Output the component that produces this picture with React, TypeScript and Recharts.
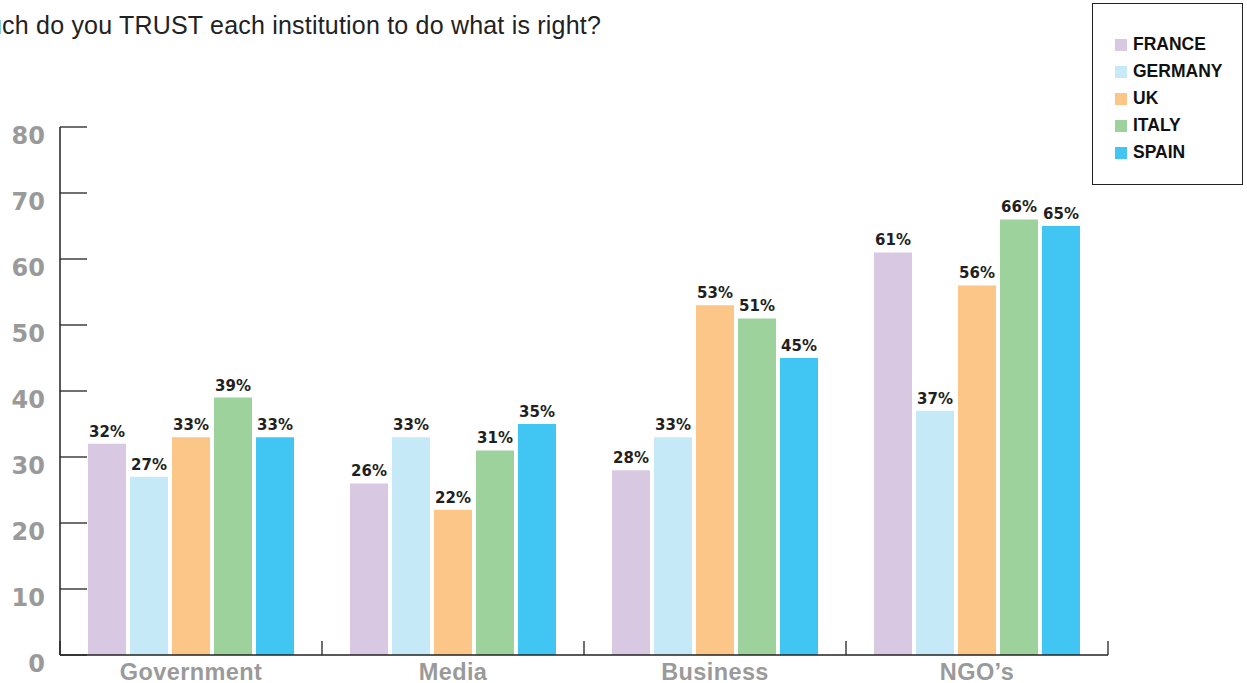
import React from 'react';
import { BarChart, Bar, XAxis, YAxis, LabelList } from 'recharts';

const categories = ['Government', 'Media', 'Business', 'NGO’s'];
const france = [32, 26, 28, 61];
const germany = [27, 33, 33, 37];
const uk = [33, 22, 53, 56];
const italy = [39, 31, 51, 66];
const spain = [33, 35, 45, 65];
const yTicks = [0, 10, 20, 30, 40, 50, 60, 70, 80];

const series = [
    { key: 'france', name: 'FRANCE', color: '#D9C8E2', values: france },
    { key: 'germany', name: 'GERMANY', color: '#C6E9F8', values: germany },
    { key: 'uk', name: 'UK', color: '#FBC688', values: uk },
    { key: 'italy', name: 'ITALY', color: '#9DD29C', values: italy },
    { key: 'spain', name: 'SPAIN', color: '#41C6F3', values: spain },
];

const W = 1247;
const H = 683;
const margin = { top: 127, right: 139, bottom: 0, left: 0 };
const yAxisWidth = 60;
const xAxisHeight = 28;
const bandWidth = (W - margin.right - yAxisWidth) / categories.length;

const axisColor = '#222';
const tickGray = '#9a9a9a';

const YTick = (props: any) => {
    const { x, y, payload } = props;
    return (
        <g>
            <line x1={x + 15} x2={x + 42} y1={y} y2={y} stroke={axisColor} strokeWidth={1.3} />
            <text x={x} y={y + 17} textAnchor="end" fill={tickGray}
                style={{ fontFamily: '"DejaVu Sans", Verdana, sans-serif', fontWeight: 700, fontSize: 24 }}>
                {payload.value}
            </text>
        </g>
    );
};

const XTick = (props: any) => {
    const { x, y, payload, index } = props;
    const right = x + bandWidth / 2;
    const left = x - bandWidth / 2;
    return (
        <g>
            {index === 0 && <line x1={left} x2={left} y1={y} y2={y - 14} stroke={axisColor} strokeWidth={1.3} />}
            <line x1={right} x2={right} y1={y} y2={y - 14} stroke={axisColor} strokeWidth={1.3} />
            <text x={x} y={y + 25} textAnchor="middle" fill={tickGray}
                style={{ fontFamily: 'Liberation Sans, Arial, sans-serif', fontWeight: 700, fontSize: 23.5, letterSpacing: 0.4 }}>
                {payload.value}
            </text>
        </g>
    );
};

const App = () => {
    const data = categories.map((name, i) => {
        const row: Record<string, string | number> = { name };
        series.forEach(s => { row[s.key] = s.values[i]; });
        return row;
    });

    return (
        <div style={{ position: 'absolute', left: 0, top: 0, width: W, height: H, background: '#fff', overflow: 'hidden' }}>
            <div style={{
                position: 'absolute', right: W - 601, top: 11, whiteSpace: 'nowrap',
                fontFamily: '"Liberation Sans", Arial, sans-serif',
                fontSize: 25, letterSpacing: 0.2, color: '#222',
            }}>
                How much do you TRUST each institution to do what is right?
            </div>

            <BarChart width={W} height={H} data={data} margin={margin} barCategoryGap={28} barGap={4}>
                <XAxis dataKey="name" height={xAxisHeight} tickSize={0} tickMargin={0} tickLine={false}
                    axisLine={{ stroke: axisColor, strokeWidth: 1.5 }} tick={<XTick />} interval={0} />
                <YAxis width={yAxisWidth} domain={[0, 80]} ticks={yTicks} tickSize={0} tickMargin={15}
                    tickLine={false} axisLine={{ stroke: axisColor, strokeWidth: 1.5 }} tick={<YTick />} />
                {series.map(s => (
                    <Bar key={s.key} dataKey={s.key} name={s.name} fill={s.color} isAnimationActive={false}>
                        <LabelList dataKey={s.key} position="top" offset={7}
                            formatter={(v: any) => `${v}%`}
                            style={{ fontFamily: '"DejaVu Sans", Verdana, sans-serif', fontWeight: 700, fontSize: 15, fill: '#231f20' }} />
                    </Bar>
                ))}
            </BarChart>

            <div style={{
                position: 'absolute', left: 1092, top: 3, width: 151, height: 182, boxSizing: 'border-box',
                border: '1.5px solid #222', paddingTop: 27, paddingLeft: 22,
            }}>
                {series.map(s => (
                    <div key={s.key} style={{ display: 'flex', alignItems: 'center', height: 27 }}>
                        <span style={{ width: 12, height: 12, background: s.color, marginRight: 6, display: 'inline-block' }} />
                        <span style={{ fontFamily: 'Liberation Sans, Arial, sans-serif', fontWeight: 700, fontSize: 17.5, color: '#111' }}>
                            {s.name}
                        </span>
                    </div>
                ))}
            </div>
        </div>
    );
};

export default App;
